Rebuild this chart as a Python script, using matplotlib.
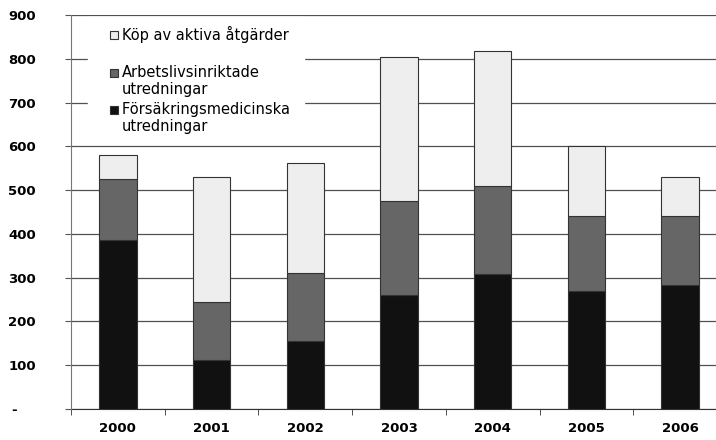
import matplotlib
matplotlib.use('Agg')
import matplotlib.pyplot as plt
from matplotlib.patches import Rectangle
from matplotlib.legend_handler import HandlerPatch
import numpy as np

# data
years = ['2000', '2001', '2002', '2003', '2004', '2005', '2006']
forsakring = [385, 113, 155, 260, 308, 270, 283]
arbetsliv = [140, 132, 155, 215, 202, 170, 157]
kop = [55, 285, 253, 328, 308, 160, 90]

ytick_vals = [0, 100, 200, 300, 400, 500, 600, 700, 800, 900]
ytick_labels = ['-    ', '100', '200', '300', '400', '500', '600', '700', '800', '900']

legend_labels = ['Köp av aktiva åtgärder\n ', 'Arbetslivsinriktade\nutredningar',
                 'Försäkringsmedicinska \nutredningar']

plt.rcParams['font.family'] = ['DejaVu Sans']


def top_square(legend, orig_handle, xdescent, ydescent, width, height, fontsize):
    # excel style: small square at the first text line, right end of handle box
    s = 0.55 * fontsize
    return Rectangle((-xdescent + width - s, -ydescent + height / 2 - s / 2 + 0.6 * fontsize), s, s)


fig = plt.figure(figsize=(7.16, 4.40), dpi=100)
ax = fig.add_axes([71 / 716, 31 / 440, 656 / 716, 394 / 440])

x = np.arange(len(years))
w = 0.4
edge = '#333333'
b1 = ax.bar(x, forsakring, w, color='#111111', edgecolor=edge, linewidth=0.8, zorder=3)
b2 = ax.bar(x, arbetsliv, w, bottom=forsakring, color='#666666', edgecolor=edge,
            linewidth=0.8, zorder=3)
bottom2 = np.array(forsakring) + np.array(arbetsliv)
b3 = ax.bar(x, kop, w, bottom=bottom2, color='#eeeeee', edgecolor=edge, linewidth=0.8, zorder=3)

ax.set_xlim(-0.5, len(years) - 0.5)
ax.set_ylim(0, 900)

ax.set_yticks(ytick_vals)
ax.set_yticklabels(ytick_labels, fontweight='bold', fontsize=9.5)
ax.tick_params(axis='y', direction='out', length=4.3, pad=21, color='#555555')

ax.set_xticks(x)
ax.set_xticklabels(years, fontweight='bold', fontsize=9.5)
ax.set_xticks(np.arange(-0.5, len(years)), minor=True)
ax.tick_params(axis='x', which='major', length=0, pad=9)
ax.tick_params(axis='x', which='minor', direction='out', length=4.3, color='#333333')

ax.yaxis.grid(True, color='#505050', linewidth=0.9, zorder=0)
ax.set_axisbelow(True)

for s in ['right', 'top']:
    ax.spines[s].set_visible(False)
ax.spines['left'].set_color('#777777')
ax.spines['bottom'].set_color('#333333')
ax.spines['left'].set_zorder(4)

leg = ax.legend([b3.patches[0], b2.patches[0], b1.patches[0]], legend_labels,
                handler_map={Rectangle: HandlerPatch(patch_func=top_square)},
                loc='upper left', bbox_to_anchor=(17 / 656, 1 - 1.5 / 394),
                fontsize=10.5, frameon=True, fancybox=False, framealpha=1,
                edgecolor='white', facecolor='white',
                handlelength=1.4, handleheight=0.55, handletextpad=0.27,
                labelspacing=0.3, borderpad=0.65, borderaxespad=0)
leg.set_zorder(5)

fig.savefig('out.png', dpi=100)
